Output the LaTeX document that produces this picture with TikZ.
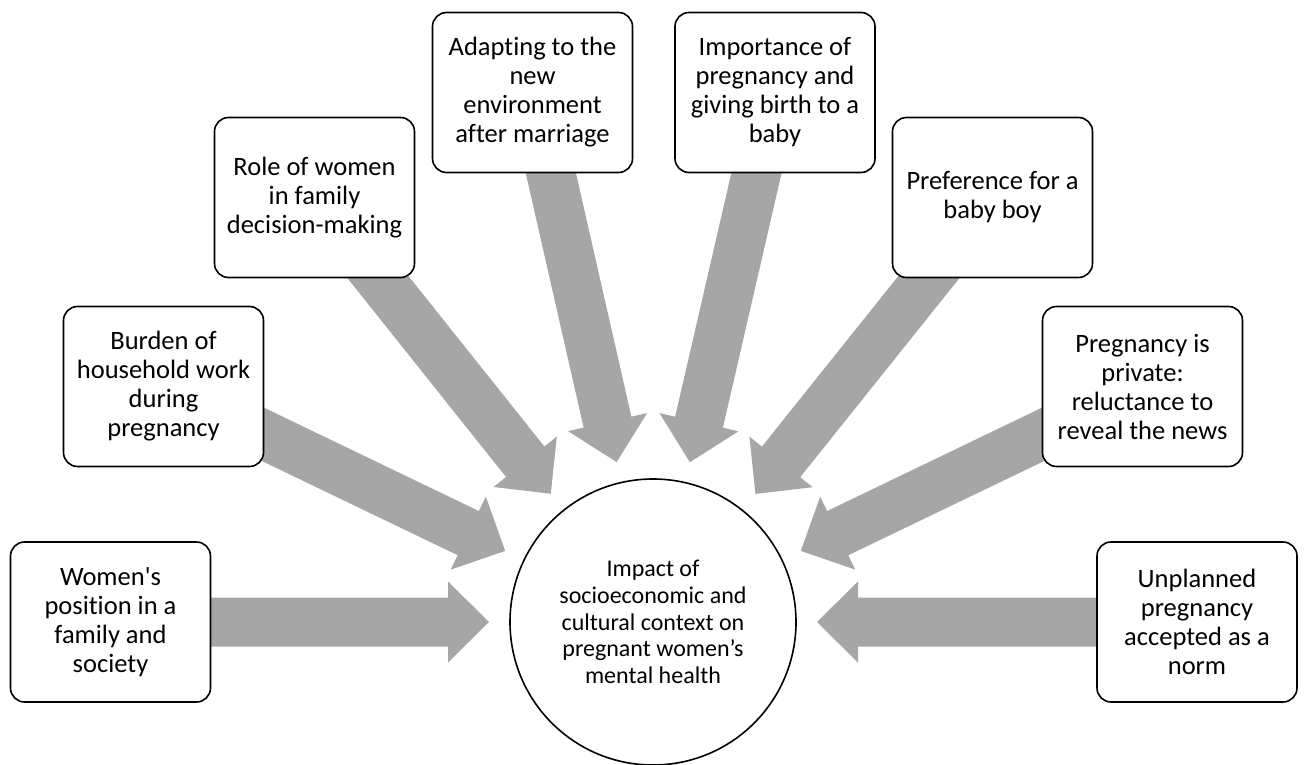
\documentclass[tikz,border=0pt]{standalone}
\usepackage{fontspec}
\setmainfont{Carlito}[Ligatures={TeXOff,NoCommon}]
\usetikzlibrary{calc}
\pgfdeclarelayer{bg}
\pgfsetlayers{bg,main}
\definecolor{arrowgray}{HTML}{A6A6A6}
\tikzset{
  box/.style={draw=black, line width=1.6pt, rounded corners=14pt, fill=white,
    minimum width=200pt, minimum height=160pt, inner sep=0pt, align=center,
    font=\fontsize{26.5}{29}\selectfont},
  hubnode/.style={draw=black, circle, line width=1.6pt, fill=white, minimum size=286pt,
    inner sep=0pt, align=center, font=\fontsize{24}{26.7}\selectfont},
  arrowfill/.style={fill=arrowgray}
}
\newcommand{\blockarrow}[1]{%
  \coordinate (tip-#1) at ($(hub.center)!164pt!(#1.center)$);
  \coordinate (hb-#1) at ($(tip-#1)!41pt!(#1.center)$);
  \fill[arrowfill] ($(#1.center)!24.5pt!-90:(tip-#1)$)
    -- ($(hb-#1)!24.5pt!90:(#1.center)$)
    -- ($(hb-#1)!40.5pt!90:(#1.center)$)
    -- (tip-#1)
    -- ($(hb-#1)!40.5pt!-90:(#1.center)$)
    -- ($(hb-#1)!24.5pt!-90:(#1.center)$)
    -- ($(#1.center)!24.5pt!90:(tip-#1)$) -- cycle;
}
\begin{document}
\begin{tikzpicture}[x=1pt,y=-1pt]
\useasboundingbox (0,0) rectangle (1304,765);
\node[hubnode] (hub) at (653,622) {Impact of\\socioeconomic and\\cultural context on\\pregnant women’s\\mental health};
\node[box] (women) at (110.5,622) {Women's\\position in a\\family and\\society};
\node[box] (burden) at (163.5,386.5) {Burden of\\household work\\during\\pregnancy};
\node[box] (role) at (314.5,197.5) {Role of women\\in family\\decision-making};
\node[box] (adapt) at (532.5,92.5) {Adapting to the\\new\\environment\\after marriage};
\node[box] (importance) at (775,92.5) {Importance of\\pregnancy and\\giving birth to a\\baby};
\node[box] (pref) at (992.5,197.5) {Preference for a\\baby boy};
\node[box] (private) at (1142.5,386.5) {Pregnancy is\\private:\\reluctance to\\reveal the news};
\node[box] (unplanned) at (1197,622) {Unplanned\\pregnancy\\accepted as a\\norm};
\begin{pgfonlayer}{bg}
\blockarrow{women}
\blockarrow{burden}
\blockarrow{role}
\blockarrow{adapt}
\blockarrow{importance}
\blockarrow{pref}
\blockarrow{private}
\blockarrow{unplanned}
\end{pgfonlayer}
\end{tikzpicture}
\end{document}
